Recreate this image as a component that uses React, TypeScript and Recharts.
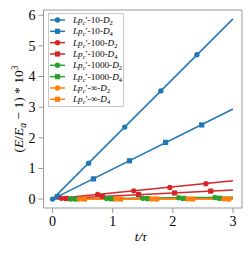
import { ComposedChart, Line, XAxis, YAxis, ReferenceArea } from 'recharts';

// marker positions (t/tau) and values for each run
const t10D2 = [0, 0.6, 1.2, 1.8, 2.4];
const v10D2 = [0, 1.17, 2.35, 3.53, 4.71];
const t10D4 = [0.08, 0.68, 1.28, 1.88, 2.48];
const v10D4 = [0.08, 0.66, 1.25, 1.85, 2.42];
const t100D2 = [0.15, 0.75, 1.35, 1.95, 2.55];
const v100D2 = [0.03, 0.15, 0.27, 0.38, 0.5];
const t100D4 = [0.23, 0.83, 1.43, 2.03, 2.63];
const v100D4 = [0.02, 0.09, 0.15, 0.2, 0.26];
const t1000D2 = [0.3, 0.9, 1.5, 2.1, 2.7];
const v1000D2 = [0.006, 0.018, 0.03, 0.042, 0.054];
const t1000D4 = [0.38, 0.98, 1.58, 2.18, 2.78];
const v1000D4 = [0.004, 0.01, 0.016, 0.022, 0.028];
const tInfD2 = [0.45, 1.05, 1.65, 2.25, 2.85];
const vInfD2 = [0.001, 0.003, 0.005, 0.007, 0.009];
const tInfD4 = [0.53, 1.13, 1.73, 2.33, 2.93];
const vInfD4 = [0.001, 0.002, 0.003, 0.004, 0.005];

// fitted line value at t/tau = 3 (fits start at 0)
const fitEnd = [5.88, 2.94, 0.6, 0.3, 0.06, 0.03, 0.01, 0.005];

const names = ['10', '10', '100', '100', '1000', '1000', '∞', '∞'];
const dims = ['2', '4', '2', '4', '2', '4', '2', '4'];
const colors = ['#1f77b4', '#1f77b4', '#d62728', '#d62728', '#2ca02c', '#2ca02c', '#ff7f0e', '#ff7f0e'];

const xTicks = [0, 1, 2, 3];
const yTicks = [0, 1, 2, 3, 4, 5, 6];
const xDomain = [-0.15, 3.15];
const yDomain = [-0.29, 6.17];

const markerT = [t10D2, t10D4, t100D2, t100D4, t1000D2, t1000D4, tInfD2, tInfD4];
const markerV = [v10D2, v10D4, v100D2, v100D4, v1000D2, v1000D4, vInfD2, vInfD4];

const series = names.map((n, i) => ({
  name: n,
  dim: dims[i],
  color: colors[i],
  square: dims[i] === '4',
  fit: [
    { t: 0, v: 0 },
    { t: 3, v: fitEnd[i] },
  ],
  marks: markerT[i].map((t, j) => ({ t, v: markerV[i][j] })),
}));

const font = '"Liberation Serif", "DejaVu Serif", serif';

const Marker = ({ cx, cy, color, square }: any) => {
  if (cx == null || cy == null) return null;
  if (square) return <rect x={cx - 2.6} y={cy - 2.6} width={5.2} height={5.2} fill={color} />;
  return <circle cx={cx} cy={cy} r={2.7} fill={color} />;
};

const YLabel = ({ viewBox }: any) => (
  <text
    transform={`translate(23,${viewBox.y + viewBox.height / 2}) rotate(-90)`}
    textAnchor="middle"
    fontFamily={font}
    fontSize={13.5}
    fill="#000"
  >
    (<tspan fontStyle="italic">E</tspan>/<tspan fontStyle="italic">E</tspan>
    <tspan fontStyle="italic" fontSize={9.5} dy={3}>a</tspan>
    <tspan dy={-3}> − 1) * 10</tspan>
    <tspan fontSize={9.5} dy={-5}>3</tspan>
  </text>
);

const XLabel = ({ viewBox }: any) => (
  <text
    x={viewBox.x + viewBox.width / 2 - 2}
    y={241}
    textAnchor="middle"
    fontFamily={font}
    fontSize={13}
    fontStyle="italic"
    fill="#000"
  >
    t/τ
  </text>
);

const LegendBox = () => {
  const rowH = 11.33;
  return (
    <svg
      width={252}
      height={255}
      style={{ position: 'absolute', left: 0, top: 0, pointerEvents: 'none' }}
    >
      <rect x={48.5} y={13.5} width={75} height={93} fill="#fff" fillOpacity={0.85} stroke="#c8c8c8" strokeWidth={1} />
      {series.map((s, i) => {
        const y = 20 + i * rowH;
        return (
          <g key={i}>
            <line x1={50} x2={65} y1={y} y2={y} stroke={s.color} strokeWidth={1.5} />
            <Marker cx={57.5} cy={y} color={s.color} square={s.square} />
            <text x={73} y={y + 3} fontFamily={font} fontSize={9.2} fill="#000">
              <tspan fontStyle="italic">Lp</tspan>
              <tspan fontStyle="italic" fontSize={6.5} dy={2}>c</tspan>
              <tspan dy={-2}>′-{s.name}-</tspan>
              <tspan fontStyle="italic">D</tspan>
              <tspan fontSize={6.5} dy={2}>{s.dim}</tspan>
            </text>
          </g>
        );
      })}
    </svg>
  );
};

export default function App() {
  return (
    <div style={{ position: 'absolute', left: 0, top: 0, width: 252, height: 255 }}>
      <ComposedChart width={252} height={255} margin={{ top: 10, right: 10, bottom: 0, left: 0 }}>
        <XAxis
          dataKey="t"
          type="number"
          domain={xDomain}
          ticks={xTicks}
          allowDataOverflow
          height={47}
          axisLine={false}
          tickLine={{ stroke: '#999' }}
          tickSize={5}
          tickMargin={3}
          tick={{ fontFamily: font, fontSize: 14, fill: '#000' }}
          label={<XLabel />}
        />
        <YAxis
          type="number"
          domain={yDomain}
          ticks={yTicks}
          allowDataOverflow
          width={43.5}
          axisLine={false}
          tickLine={{ stroke: '#999' }}
          tickSize={5}
          tickMargin={3}
          tick={{ fontFamily: font, fontSize: 14, fill: '#000' }}
          label={<YLabel />}
        />
        <ReferenceArea
          x1={xDomain[0]}
          x2={xDomain[1]}
          y1={yDomain[0]}
          y2={yDomain[1]}
          fill="none"
          stroke="#999"
          strokeWidth={1}
          ifOverflow="visible"
        />
        {series.flatMap((s, i) => [
          <Line
            key={`fit-${i}`}
            data={s.fit}
            dataKey="v"
            stroke={s.color}
            strokeWidth={1.5}
            dot={false}
            activeDot={false}
            isAnimationActive={false}
          />,
          <Line
            key={`mk-${i}`}
            data={s.marks}
            dataKey="v"
            stroke="none"
            dot={(p: any) => <Marker key={p.index} cx={p.cx} cy={p.cy} color={s.color} square={s.square} />}
            activeDot={false}
            isAnimationActive={false}
          />,
        ])}
      </ComposedChart>
      <LegendBox />
    </div>
  );
}
